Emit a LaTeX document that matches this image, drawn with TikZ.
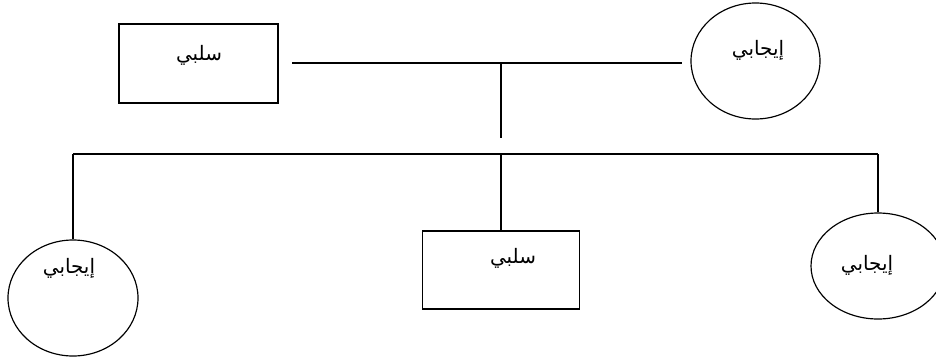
\documentclass[tikz,border=0pt]{standalone}
\usepackage{fontspec}
\newfontfamily\arabicfont[Script=Arabic]{DejaVu Sans}
\TeXXeTstate=1
\usetikzlibrary{shapes.geometric}

\begin{document}
\begin{tikzpicture}[x=0.03cm, y=-0.03cm, line width=1pt,
  negbox/.style={draw, rectangle, inner sep=0pt},
  posoval/.style={draw, ellipse, inner sep=0pt},
  lbl/.style={font=\arabicfont\fontsize{17}{20}\selectfont, inner sep=0pt}]

\useasboundingbox (0,0) rectangle (936,358);
\clip (0,0) rectangle (936,358);

% Top row: negative box and positive oval
\node[negbox, minimum width=4.77cm, minimum height=2.37cm] (negTop) at (198.5,63.5) {};
\node[posoval, minimum width=3.87cm, minimum height=3.48cm] (posTop) at (755.5,61) {};

% Bottom row
\node[posoval, minimum width=3.9cm, minimum height=3.48cm] (posLeft) at (73,298) {};
\node[negbox, minimum width=4.71cm, minimum height=2.34cm] (negMid) at (501,270) {};
\node[posoval, minimum width=4.02cm, minimum height=3.18cm] (posRight) at (878,266) {};

% Labels sit near the top of each shape
\node[lbl] (tNegTop) at (199,55) {\beginR سلبي\endR};
\node[lbl] (tPosTop) at (758,50) {\beginR إيجابي\endR};
\node[lbl] (tPosLeft) at (69,268) {\beginR إيجابي\endR};
\node[lbl] (tNegMid) at (513,258) {\beginR سلبي\endR};
\node[lbl] (tPosRight) at (867,265) {\beginR إيجابي\endR};

% Free ends of the connectors
\coordinate (topL) at (292,63);
\coordinate (topR) at (682,63);
\coordinate (topM) at (501,63);
\coordinate (stem) at (501,138);
\coordinate (barL) at (73,154);
\coordinate (barM) at (501,154);
\coordinate (barR) at (878,154);

% Top bar and stem
\draw (topL) -- (topR);
\draw (topM) -- (stem);

% Bottom bar and drops
\draw (barL) -- (barR);
\draw (barL) -- (posLeft.north);
\draw (barM) -- (negMid.north);
\draw (barR) -- (posRight.north);
\end{tikzpicture}
\end{document}
